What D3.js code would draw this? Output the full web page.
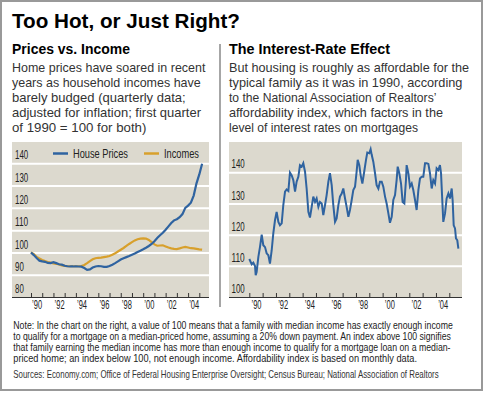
<html>
<head>
<title>Too Hot, or Just Right?</title>
<script src="https://d3js.org/d3.v7.min.js"></script>
<style>
  body { margin: 0; background: #fff; }
  text { fill: #222; }
  .gridlines .domain { display: none; }
  .gridlines line { stroke: #fff; stroke-width: 2; }
  .ylabels .domain, .xlabels .domain { display: none; }
  .ylabels text, .xlabels text, .legend text {
    font-family: "Liberation Sans Narrow", "Arial Narrow", "Liberation Sans", sans-serif;
    font-size: 12.5px; fill: #222;
  }
  .xticks .domain { stroke: #333; }
  .xticks line { stroke: #333; }
</style>
</head>
<body>
<svg id="chart" width="492" height="397"></svg>
<script>
  // ---- data ----
  // left: quarterly, 1990 Q1 = 100
  const quarters = d3.range(0, 62).map(i => 1990 + i * 0.25);
  const housePrices = [
    100, 98.8, 97.5, 96.3, 96.0, 95.8, 95.3, 95.2,
    95.6, 95.2, 94.7, 94.5, 94.0, 93.8, 93.7, 93.7,
    93.8, 93.7, 93.6, 93.0, 92.2, 92.4, 93.2, 93.7,
    93.9, 93.8, 93.5, 93.5, 93.9, 94.5, 95.2, 96.0,
    96.8, 97.4, 97.9, 98.4, 99.0, 99.5, 100.2, 100.8,
    101.4, 102.1, 102.9, 103.8, 105.0, 106.5, 107.7, 108.8,
    110.2, 111.7, 113.2, 114.4, 114.9, 115.8, 117.2, 120.0,
    121.0, 122.3, 125.5, 131.0, 135.0, 139.8
  ];
  const incomes = [
    100, 99.2, 98.0, 97.3, 96.6, 96.1, 95.7, 95.4,
    95.1, 94.9, 94.6, 94.2, 94.0, 93.8, 93.8, 93.8,
    93.8, 93.8, 93.9, 94.4, 95.2, 96.1, 96.9, 97.4,
    97.6, 97.7, 97.9, 98.1, 98.4, 99.0, 99.6, 100.4,
    101.2, 102.0, 102.9, 103.8, 104.6, 105.4, 105.9, 106.2,
    106.3, 106.2, 105.6, 104.6, 103.6, 103.0, 103.1, 103.2,
    102.7, 102.2, 101.8, 101.6, 101.5, 101.8, 102.2, 102.5,
    102.2, 101.9, 101.8, 101.6, 101.4, 101.3
  ];

  // right: affordability index (monthly data, read at turning points)
  const affYears = [
    1990.0, 1990.18, 1990.3, 1990.43, 1990.48, 1990.55, 1990.68, 1990.8, 1990.93,
    1991.05, 1991.18, 1991.3, 1991.43, 1991.55, 1991.68, 1991.8, 1991.93,
    1992.05, 1992.18, 1992.3, 1992.43, 1992.55, 1992.68, 1992.8, 1992.93,
    1993.05, 1993.18, 1993.3, 1993.43, 1993.55, 1993.68, 1993.8, 1993.93,
    1994.05, 1994.18, 1994.3, 1994.43, 1994.55, 1994.68, 1994.8, 1994.93,
    1995.05, 1995.18, 1995.3, 1995.43, 1995.55, 1995.68, 1995.8, 1995.93,
    1996.05, 1996.18, 1996.3, 1996.43, 1996.55, 1996.68, 1996.8, 1996.93,
    1997.05, 1997.18, 1997.3, 1997.43, 1997.55, 1997.68, 1997.8, 1997.93,
    1998.05, 1998.13, 1998.25, 1998.35, 1998.48, 1998.6, 1998.75, 1998.85,
    1999.0, 1999.1, 1999.18, 1999.3, 1999.43, 1999.55, 1999.68, 1999.8, 1999.93,
    2000.05, 2000.18, 2000.3, 2000.43, 2000.55, 2000.68, 2000.8, 2000.93,
    2001.05, 2001.13, 2001.25, 2001.38, 2001.5, 2001.63, 2001.75, 2001.8, 2001.93,
    2002.05, 2002.18, 2002.3, 2002.43, 2002.55, 2002.68, 2002.8, 2002.93,
    2003.05, 2003.18, 2003.3, 2003.43, 2003.55, 2003.68, 2003.8, 2003.93,
    2004.05, 2004.18, 2004.3, 2004.38, 2004.45, 2004.55, 2004.68, 2004.8, 2004.93,
    2005.05, 2005.18, 2005.25, 2005.33, 2005.43, 2005.5, 2005.6, 2005.68
  ];
  const affValues = [
    112.2, 110.5, 111, 109.9, 107, 108, 112.9, 116, 120,
    116.6, 116, 114, 113.4, 110.7, 115, 120.4, 124.7,
    127.3, 124.1, 123, 123.6, 129.5, 133.8, 134.5, 134,
    139.9, 139, 137.5, 133.8, 137, 138.6, 142.3, 141.8,
    142.9, 140.2, 134.8, 127.3, 125.5, 128.9, 132.2, 130.5,
    131.6, 128.9, 130.5, 130, 126.3, 129.5, 132.7, 137,
    139.7, 135.9, 129.5, 124.1, 125.2, 129.5, 132.2, 133.2,
    134.8, 131.6, 128.9, 125.7, 127.9, 131.1, 134.3, 135.4,
    140.2, 144, 142.3, 139.1, 136.4, 139.7, 143.9, 146.3,
    146.1, 147.4, 145.6, 143.4, 139.7, 135.9, 134.8, 137, 137,
    135.4, 132.2, 130, 126.8, 123.8, 125.7, 131.1, 132.7,
    137.5, 141.8, 139.7, 136.4, 130.5, 130, 137.5, 142.3, 139.7,
    135.4, 136.4, 134.3, 131.1, 127.9, 134.3, 138, 138.6,
    138.6, 142.9, 142.9, 142.7, 139.7, 134.8, 137.5, 136.4,
    141.3, 140.7, 142.3, 139.7, 133.2, 124.1, 126.8, 131.6, 133.2,
    131.6, 134.8, 131.1, 123, 122, 118.8, 118.2, 115.5
  ];

  const tickYears = d3.range(1990, 2006);
  const labelYears = d3.range(1990, 2005, 2);
  const leftTicks = [80, 90, 100, 110, 120, 130, 140];
  const rightTicks = [100, 110, 120, 130, 140];

  const leftNotes = [
    "Home prices have soared in recent",
    "years as household incomes have",
    "barely budged (quarterly data;",
    "adjusted for inflation; first quarter",
    "of 1990 = 100 for both)"
  ];
  const leftNoteLengths = [193.4, 188.7, 173.7, 189, 134.4];
  const rightNotes = [
    "But housing is roughly as affordable for the",
    "typical family as it was in 1990, according",
    "to the National Association of Realtors\u2019",
    "affordability index, which factors in the",
    "level of interest rates on mortgages"
  ];
  const rightNoteLengths = [240, 233.4, 207.4, 214, 189];
  const footNotes = [
    "Note: In the chart on the right, a value of 100 means that a family with median income has exactly enough income",
    "to qualify for a mortgage on a median-priced home, assuming a 20% down payment. An index above 100 signifies",
    "that family earning the median income has more than enough income to qualify for a mortgage loan on a median-",
    "priced home; an index below 100, not enough income. Affordability index is based on monthly data."
  ];
  const footLengths = [440, 438.5, 437.5, 404];
  const sourceLine = "Sources: Economy.com; Office of Federal Housing Enterprise Oversight; Census Bureau; National Association of Realtors";

  const blue = "#2f63a0";
  const orange = "#d8a02c";
  const plotBg = "#dcd9ce";
  const narrow = "'Liberation Sans Narrow', 'Arial Narrow', 'Liberation Sans', sans-serif";

  const svg = d3.select("#chart");

  // frame
  svg.append("rect")
    .attr("x", 1).attr("y", 1).attr("width", 481).attr("height", 389)
    .attr("fill", "none").attr("stroke", "#999").attr("stroke-width", 2);

  svg.append("text")
    .attr("x", 12).attr("y", 28)
    .attr("font-family", "'Liberation Sans', Arial, sans-serif")
    .attr("font-weight", "bold").attr("font-size", 21)
    .attr("textLength", 228).attr("lengthAdjust", "spacingAndGlyphs")
    .style("fill", "#000")
    .text("Too Hot, or Just Right?");

  // divider
  svg.append("line")
    .attr("x1", 220).attr("x2", 220).attr("y1", 44).attr("y2", 307)
    .attr("stroke", "#888").attr("stroke-width", 1.5);

  function panelHeader(x, title, titleLength, lines, lengths) {
    svg.append("text")
      .attr("x", x).attr("y", 54)
      .attr("font-family", "'Liberation Sans', Arial, sans-serif")
      .attr("font-weight", "bold").attr("font-size", 14.5)
      .attr("textLength", titleLength).attr("lengthAdjust", "spacingAndGlyphs")
      .style("fill", "#000")
      .text(title);
    svg.append("g").selectAll("text").data(lines)
      .join("text")
      .attr("x", x)
      .attr("y", (d, i) => 71.7 + i * 15)
      .attr("font-family", "'Liberation Sans', Arial, sans-serif")
      .attr("font-size", 13)
      .attr("textLength", (d, i) => lengths[i])
      .attr("lengthAdjust", "spacingAndGlyphs")
      .style("fill", "#333")
      .text(d => d);
  }
  panelHeader(12, "Prices vs. Income", 118, leftNotes, leftNoteLengths);
  panelHeader(229, "The Interest-Rate Effect", 161, rightNotes, rightNoteLengths);

  // generic panel
  function drawPanel(opt) {
    const x = d3.scaleLinear().domain([1990, 2005]).range(opt.xRange);
    const y = d3.scaleLinear().domain(opt.yDomain).range([297, opt.yTop]);

    const g = svg.append("g");
    g.append("rect")
      .attr("x", opt.bg[0]).attr("y", 142)
      .attr("width", opt.bg[1] - opt.bg[0]).attr("height", 297 - 142)
      .attr("fill", plotBg);

    g.append("g")
      .attr("class", "gridlines")
      .attr("transform", `translate(${opt.bg[1]},0)`)
      .call(d3.axisRight(y).tickValues(opt.yTicks.slice(1)).tickSize(-(opt.bg[1] - opt.bg[0])).tickFormat(""));

    g.append("g")
      .attr("class", "ylabels")
      .attr("transform", `translate(${opt.labelX},0)`)
      .call(d3.axisRight(y).tickValues(opt.yTicks).tickSize(0).tickPadding(0))
      .selectAll("text")
      .attr("dy", "-0.35em")
      .attr("textLength", d => String(d).length * 4.4)
      .attr("lengthAdjust", "spacingAndGlyphs");

    const xAxis = d3.axisBottom(x).tickValues(tickYears).tickSizeInner(-4).tickSizeOuter(0).tickFormat("");
    g.append("g")
      .attr("class", "xticks")
      .attr("transform", "translate(0,297)")
      .call(xAxis)
      .select(".domain")
      .attr("d", `M${opt.bg[0]},0.5H${opt.bg[1]}`);

    g.append("g")
      .attr("class", "xlabels")
      .attr("transform", "translate(0,298)")
      .call(d3.axisBottom(x).tickValues(labelYears.map(d => d + 0.5)).tickSize(0).tickPadding(2)
        .tickFormat(d => "\u2019" + String(Math.floor(d)).slice(2)))
      .selectAll("text")
      .attr("textLength", 10)
      .attr("lengthAdjust", "spacingAndGlyphs");

    return {g, x, y};
  }

  // left panel
  const left = drawPanel({
    xRange: [31, 199.3], yDomain: [80, 140], yTop: 163.3,
    bg: [12, 209], yTicks: leftTicks, labelX: 15
  });
  const lineL = d3.line()
    .x((d, i) => left.x(quarters[i]))
    .y(d => left.y(d));
  left.g.append("path").datum(incomes)
    .attr("d", lineL).attr("fill", "none")
    .attr("stroke", orange).attr("stroke-width", 2.2);
  left.g.append("path").datum(housePrices)
    .attr("d", lineL).attr("fill", "none")
    .attr("stroke", blue).attr("stroke-width", 2.2);

  // legend
  const legend = svg.append("g").attr("class", "legend");
  const legendItems = [
    {name: "House Prices", color: blue, x: 53, len: 55},
    {name: "Incomes", color: orange, x: 144, len: 35}
  ];
  legendItems.forEach(d => {
    legend.append("line")
      .attr("x1", d.x).attr("x2", d.x + 15)
      .attr("y1", 153.5).attr("y2", 153.5)
      .attr("stroke", d.color).attr("stroke-width", 2.5);
    legend.append("text")
      .attr("x", d.x + 20).attr("y", 157.5)
      .attr("textLength", d.len)
      .attr("lengthAdjust", "spacingAndGlyphs")
      .style("font-size", "12.5px")
      .text(d.name);
  });

  // right panel
  const right = drawPanel({
    xRange: [249.3, 449.3], yDomain: [100, 140], yTop: 172.3,
    bg: [229, 462], yTicks: rightTicks, labelX: 231.5
  });
  const lineR = d3.line()
    .x((d, i) => right.x(affYears[i]))
    .y(d => right.y(d));
  right.g.append("path").datum(affValues)
    .attr("d", lineR).attr("fill", "none")
    .attr("stroke", blue).attr("stroke-width", 2);

  // footnotes: condensed by squeezing each line horizontally to its width
  function squeezed(str, y, size, width, color) {
    const t = svg.append("text")
      .attr("x", 0).attr("y", 0)
      .attr("font-family", narrow)
      .attr("font-size", size)
      .style("fill", color)
      .text(str);
    const natural = t.node().getComputedTextLength();
    t.attr("transform", `translate(13.3,${y}) scale(${width / natural},1)`);
  }
  footNotes.forEach((d, i) => squeezed(d, 329 + i * 11, 10.5, footLengths[i], "#222"));
  squeezed(sourceLine, 377.5, 10, 426, "#333");
</script>
</body>
</html>
